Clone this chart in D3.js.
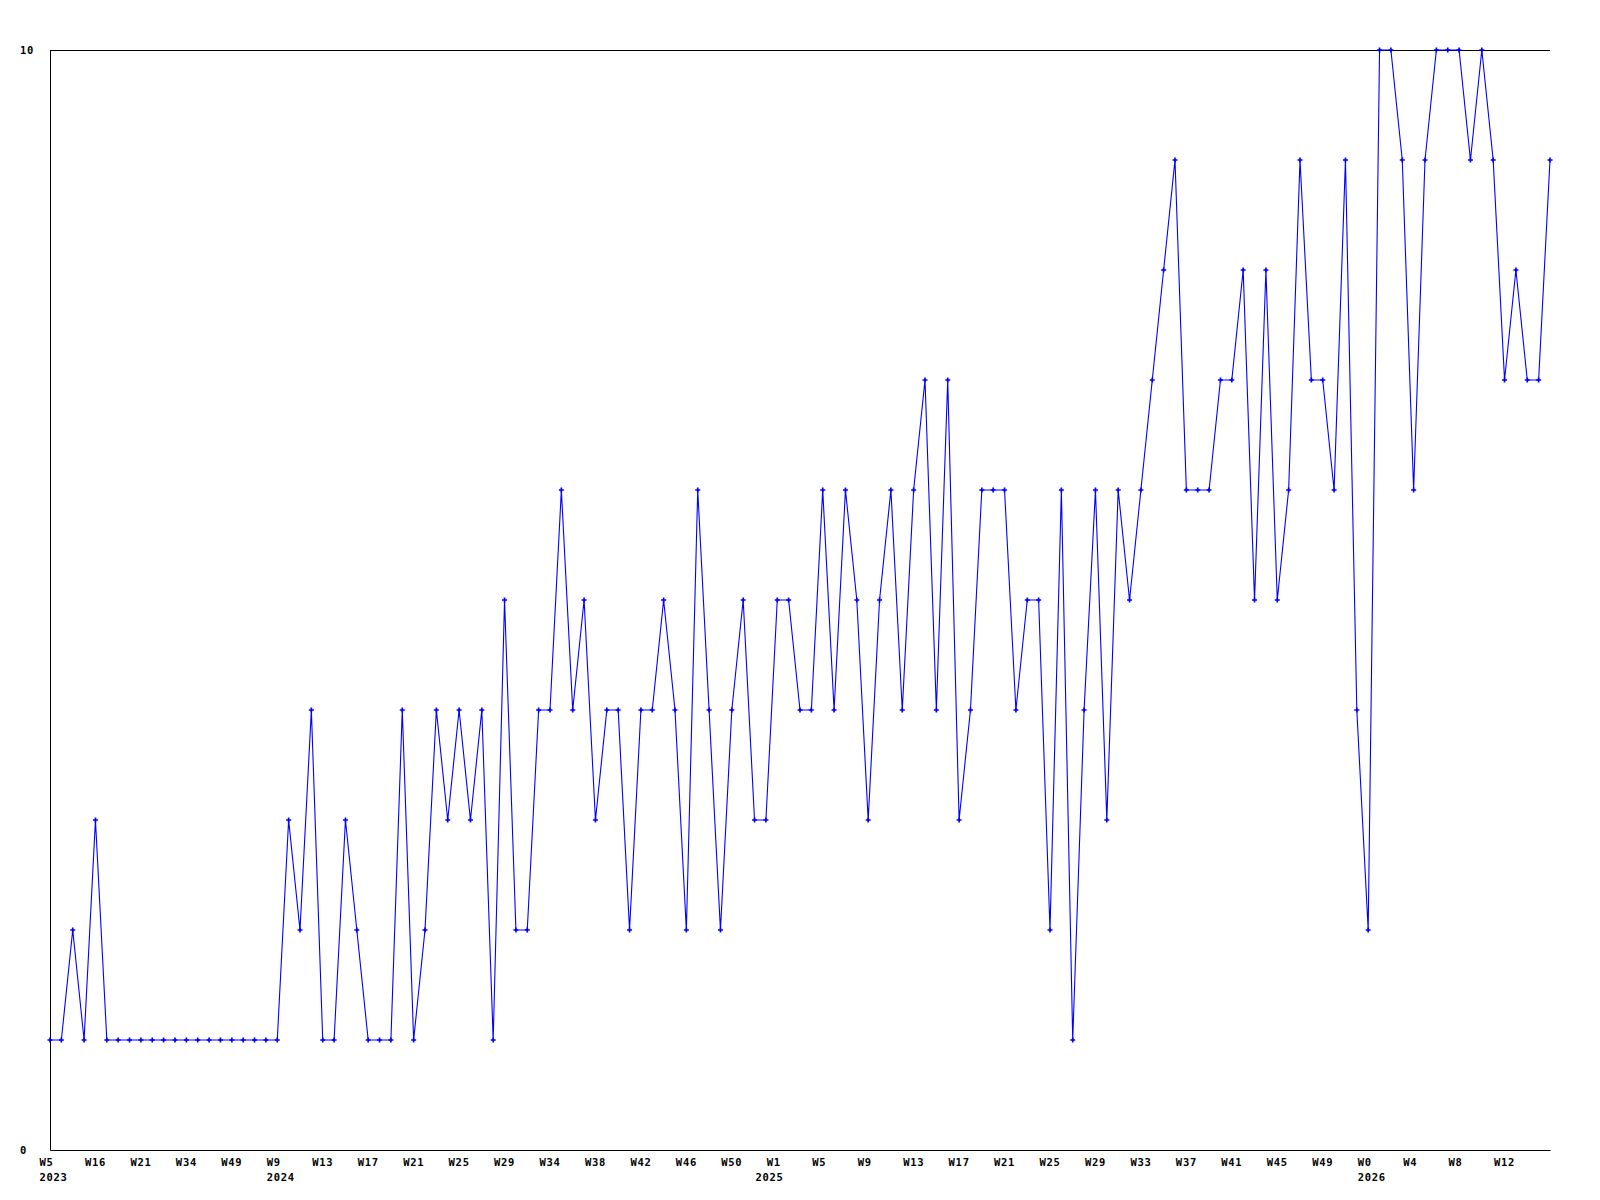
<!DOCTYPE html>
<html>
<head>
<meta charset="utf-8">
<script src="https://cdn.jsdelivr.net/npm/d3@7"></script>
<style>
  html, body { margin: 0; padding: 0; background: #ffffff; }
  svg { display: block; }
  .lbl text { font-family: "DejaVu Sans Mono", "Liberation Mono", monospace; font-weight: bold; font-size: 10.5px; letter-spacing: 0.7px; fill: #000; }
</style>
</head>
<body>
<svg id="chart" width="1600" height="1200"></svg>
<script>
// ---- data (weekly values, one per point) ----
const values = [
  1, 1, 2, 1, 3, 1, 1, 1, 1, 1,
  1, 1, 1, 1, 1, 1, 1, 1, 1, 1,
  1, 3, 2, 4, 1, 1, 3, 2, 1, 1,
  1, 4, 1, 2, 4, 3, 4, 3, 4, 1,
  5, 2, 2, 4, 4, 6, 4, 5, 3, 4,
  4, 2, 4, 4, 5, 4, 2, 6, 4, 2,
  4, 5, 3, 3, 5, 5, 4, 4, 6, 4,
  6, 5, 3, 5, 6, 4, 6, 7, 4, 7,
  3, 4, 6, 6, 6, 4, 5, 5, 2, 6,
  1, 4, 6, 3, 6, 5, 6, 7, 8, 9,
  6, 6, 6, 7, 7, 8, 5, 8, 5, 6,
  9, 7, 7, 6, 9, 4, 2, 10, 10, 9,
  6, 9, 10, 10, 10, 9, 10, 9, 7, 8,
  7, 7, 9
];
const categories = values.map((_, i) => i);

// week tick labels (every 4th point)
const weekTickLabels = ["W5","W16","W21","W34","W49","W9","W13","W17","W21","W25","W29",
  "W34","W38","W42","W46","W50","W1","W5","W9","W13","W17","W21","W25","W29","W33",
  "W37","W41","W45","W49","W0","W4","W8","W12"];
const weekTickStep = 4;
// year labels: point index and year
const yearTickIndex = [0, 20, 63, 116];
const yearTickLabels = ["2023", "2024", "2025", "2026"];

const yTickValues = [0, 10];

// ---- layout ----
const plotLeft = 50, plotRight = 1550, plotTop = 50, plotBottom = 1150;
const svg = d3.select("#chart");

const x = d3.scaleLinear().domain([0, categories.length - 1]).range([plotLeft, plotRight]);
const y = d3.scaleLinear().domain([0, 10]).range([plotBottom, plotTop]);

// top border line
svg.append("line")
  .attr("x1", plotLeft).attr("x2", plotRight)
  .attr("y1", y(10) + 0.5).attr("y2", y(10) + 0.5)
  .attr("stroke", "#000").attr("stroke-width", 1);

// x axis (weeks)
const weekTickIdx = weekTickLabels.map((_, i) => i * weekTickStep);
const xAxis = d3.axisBottom(x)
  .tickValues(weekTickIdx)
  .tickFormat((d, i) => weekTickLabels[i])
  .tickSize(0).tickSizeOuter(0);
const gx = svg.append("g").attr("class", "lbl")
  .attr("transform", `translate(0,${plotBottom})`).call(xAxis);
gx.select(".domain").attr("stroke", "#000");
gx.selectAll("text").attr("text-anchor", "start").attr("x", -11).attr("y", 16).attr("dy", null);

// x axis (years)
const yearAxis = d3.axisBottom(x)
  .tickValues(yearTickIndex)
  .tickFormat((d, i) => yearTickLabels[i])
  .tickSize(0).tickSizeOuter(0);
const gyr = svg.append("g").attr("class", "lbl")
  .attr("transform", `translate(0,${plotBottom})`).call(yearAxis);
gyr.select(".domain").remove();
gyr.selectAll("text").attr("text-anchor", "start").attr("x", -11).attr("y", 30.5).attr("dy", null);

// y axis
const yAxis = d3.axisLeft(y).tickValues(yTickValues).tickFormat(d3.format("d"))
  .tickSize(0).tickSizeOuter(0);
const gy = svg.append("g").attr("class", "lbl")
  .attr("transform", `translate(${plotLeft},0)`).call(yAxis);
gy.select(".domain").attr("stroke", "#000");
gy.selectAll("text").attr("text-anchor", "start").attr("x", 20 - plotLeft).attr("dy", "0.32em");

// line
const line = d3.line().x((d, i) => x(categories[i])).y(d => y(d));
svg.append("path")
  .datum(values)
  .attr("d", line)
  .attr("fill", "none")
  .attr("stroke", "#0000ff")
  .attr("stroke-width", 1.1);

// point markers
const sym = d3.symbol().type(d3.symbolCross).size(14);
svg.append("g").selectAll("path")
  .data(values)
  .join("path")
  .attr("d", sym)
  .attr("transform", (d, i) => `translate(${x(categories[i])},${y(d)})`)
  .attr("fill", "#0000ff");
</script>
</body>
</html>
